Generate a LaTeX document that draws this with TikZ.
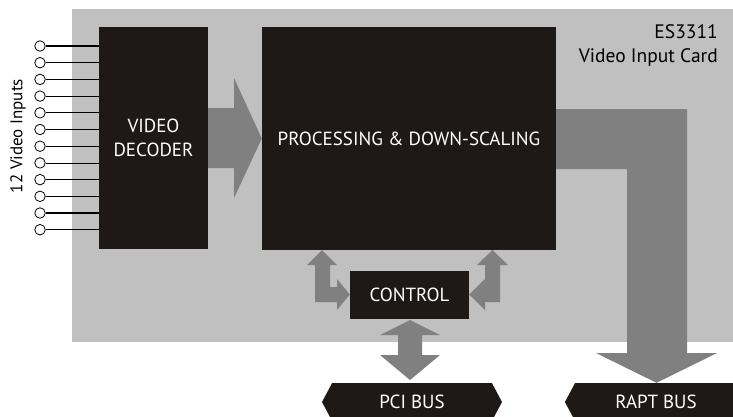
\documentclass[tikz,border=0pt]{standalone}
\usepackage{fontspec}
\setmainfont{PT Sans}
\usetikzlibrary{shapes.symbols,calc}
\definecolor{cardgray}{RGB}{192,192,192}
\definecolor{arrowgray}{RGB}{128,128,128}
\definecolor{boxblack}{RGB}{30,25,22}
\tikzset{
  blackbox/.style={fill=boxblack, text=white, inner sep=0pt, font=\fontsize{19}{24}\selectfont, align=center},
  busbox/.style={fill=boxblack, text=white, inner sep=0pt, signal, signal pointer angle=124, font=\fontsize{19}{24}\selectfont},
  blockarrow/.style={fill=arrowgray},
  inputpin/.style={circle, draw=black, fill=white, line width=0.8pt, minimum size=10.5pt, inner sep=0pt},
  cardtext/.style={text=black, font=\fontsize{19.5}{22}\selectfont, inner sep=0pt}
}
\begin{document}
\begin{tikzpicture}[x=1pt,y=-1pt]
\useasboundingbox (0,0) rectangle (733,416);
\clip (0,0) rectangle (733,416);
% card
\fill[cardgray] (72,9) rectangle (733,342);
\node[cardtext, anchor=base east] (es) at (718,38) {ES3311};
\node[cardtext, anchor=base east] (vic) at (718,62) {Video Input Card};
% blocks
\node[blackbox, minimum width=109pt, minimum height=222pt] (dec) at (153.5,138) {VIDEO\\DECODER};
\node[blackbox, minimum width=294pt, minimum height=223pt] (proc) at (409,138.5) {PROCESSING \& DOWN-SCALING};
\node[blackbox, minimum width=119pt, minimum height=48pt] (ctrl) at (409.5,295) {CONTROL};
\node[busbox, signal to=west and east, minimum width=180pt, minimum height=38pt] (pci) at (412,402) {PCI BUS};
\node[busbox, signal to=west, minimum width=172pt, minimum height=38pt] (rapt) at (656,402) {RAPT BUS};
% inputs
\foreach \i in {0,...,11} {
  \pgfmathsetmacro{\yy}{46+\i*16.7}
  \pgfmathsetmacro{\lw}{mod(\i,2)==0 ? 1.3 : 0.7}
  \node[inputpin] (in\i) at (40,\yy) {};
  \draw[line width=\lw pt] (in\i.east) -- (in\i.east -| dec.west);
}
\node[text=black, font=\fontsize{17}{20}\selectfont, rotate=90, inner sep=0pt] (lbl) at (18,136) {12 Video Inputs};
% decoder -> processing
\fill[blockarrow] (dec.east |- 0,108) -- (234,108) -- (234,78) -- (proc.west) -- (234,198) -- (234,168) -- (dec.east |- 0,168) -- cycle;
% processing -> RAPT bus
\fill[blockarrow] (proc.east |- 0,109) -- (687,109) -- (687,353) -- (717,353) -- (rapt.north -| 656.5,0) -- (596,353) -- (627,353) -- (627,169) -- (proc.east |- 0,169) -- cycle;
% control <-> PCI bus
\fill[blockarrow] (410,320) -- (440,335) -- (422,335) -- (422,355) -- (440,355) -- (410,380) -- (380,355) -- (398,355) -- (398,335) -- (380,335) -- cycle;
% processing <-> control (left)
\fill[blockarrow] (315,302) -- (315,265) -- (307,265) -- (322,250) -- (337,265) -- (330,265) -- (330,287) -- (337,287) -- (337,279) -- (ctrl.west |- 0,294.5) -- (337,310) -- (337,302) -- cycle;
% processing <-> control (right)
\fill[blockarrow] (500,265) -- (508,265) -- (492.5,250) -- (477,265) -- (485,265) -- (485,279) -- (ctrl.east |- 0,294.5) -- (485,310) -- (485,302) -- (500,302) -- cycle;
\end{tikzpicture}
\end{document}
